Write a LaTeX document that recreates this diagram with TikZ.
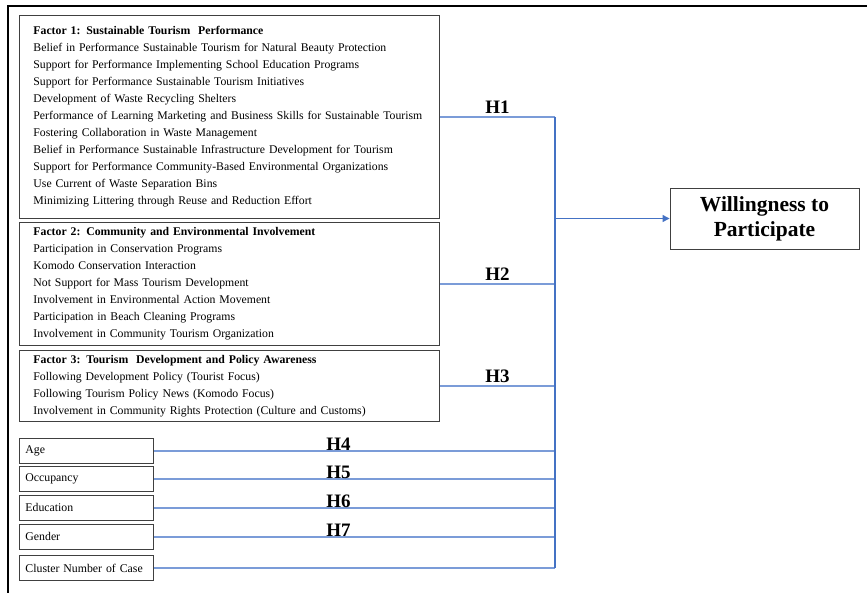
\documentclass[tikz,border=0pt]{standalone}
\usepackage{fontspec}
\setmainfont{Liberation Serif}
\usetikzlibrary{arrows.meta}
\definecolor{linkblue}{HTML}{4472C4}
\definecolor{lightblue}{HTML}{7B9CD8}
\tikzset{
  factorbox/.style={draw=black!75, line width=0.9pt, anchor=north west, align=left,
    text width=392pt, inner xsep=14pt, inner ysep=0pt, minimum width=420pt,
    font=\fontsize{11.75}{17}\selectfont},
  smallbox/.style={draw=black!75, line width=0.9pt, anchor=north west, align=left,
    minimum width=134pt, minimum height=25pt, inner xsep=6pt, text width=122pt,
    font=\fontsize{11.8}{13}\selectfont},
  hline/.style={draw=lightblue, line width=1.1pt},
  bus/.style={draw=linkblue, line width=1.2pt},
  hlabel/.style={font=\fontsize{19}{19}\selectfont\bfseries, inner sep=3pt, anchor=south},
  outbox/.style={draw=black!75, line width=0.9pt, align=center, minimum width=189pt,
    minimum height=61pt, font=\fontsize{21.5}{25}\selectfont\bfseries},
}
\begin{document}
\begin{tikzpicture}[x=1pt,y=-1pt]
\useasboundingbox (0,0) rectangle (867,592);
\draw[line width=2pt, black] (8,593) -- (8,6) -- (868,6);

\node[factorbox, minimum height=203pt] (f1) at (19,15) {%
\textbf{Factor 1: Sustainable Tourism\ \ Performance}\\
Belief in Performance Sustainable Tourism for Natural Beauty Protection\\
Support for Performance Implementing\ School Education Programs\\
Support for Performance Sustainable Tourism Initiatives\\
Development of Waste Recycling\ Shelters\\
Performance of Learning\ Marketing and Business Skills for Sustainable Tourism\\
Fostering Collaboration in Waste Management\\
Belief in Performance Sustainable Infrastructure Development\ for Tourism\\
Support for Performance Community-Based Environmental Organizations\\
Use Current of Waste Separation Bins\\
Minimizing Littering through Reuse and Reduction Effort};

\node[factorbox, minimum height=123pt] (f2) at (19,222) {%
\textbf{Factor 2: Community\ and Environmental Involvement}\\
Participation in Conservation Programs\\
Komodo Conservation Interaction\\
Not Support\ for Mass Tourism Development\\
Involvement\ in Environmental Action Movement\\
Participation in Beach Cleaning Programs\\
Involvement\ in Community Tourism Organization};

\node[factorbox, minimum height=71pt] (f3) at (19,350) {%
\textbf{Factor 3: Tourism\ \ Development and\ Policy Awareness}\\
Following Development Policy (Tourist Focus)\\
Following Tourism Policy News (Komodo Focus)\\
Involvement\ in Community Rights Protection (Culture and\ Customs)\\[4pt]};

\node[smallbox] (age) at (19,438) {Age};
\node[smallbox] (occ) at (19,466) {Occupancy};
\node[smallbox] (edu) at (19,495) {Education};
\node[smallbox] (gen) at (19,524) {Gender};
\node[smallbox] (clu) at (19,555) {Cluster Number of Case};

\node[outbox] (wtp) at (764.5,218.5) {Willingness to\\Participate};

\coordinate (busx) at (555,0);

\draw[hline] (f1.east) -- node[hlabel, pos=0.5] {H1} (f1.east -| busx);
\draw[hline] (f2.east) -- node[hlabel, pos=0.5] {H2} (f2.east -| busx);
\draw[hline] (f3.east) -- node[hlabel, pos=0.5] {H3} (f3.east -| busx);
\draw[hline] (age.east) -- node[hlabel, pos=0.46, inner sep=0pt] {H4} (age.east -| busx);
\draw[hline] (occ.east) -- node[hlabel, pos=0.46, inner sep=0pt] {H5} (occ.east -| busx);
\draw[hline] (edu.east) -- node[hlabel, pos=0.46, inner sep=0pt] {H6} (edu.east -| busx);
\draw[hline] (gen.east) -- node[hlabel, pos=0.46, inner sep=0pt] {H7} (gen.east -| busx);
\draw[hline] (clu.east) -- (clu.east -| busx);

\draw[bus] (f1.east -| busx) -- (clu.east -| busx);
\draw[bus, -{Triangle[length=7pt,width=7pt]}] (wtp.west -| busx) -- (wtp.west);
\end{tikzpicture}
\end{document}
